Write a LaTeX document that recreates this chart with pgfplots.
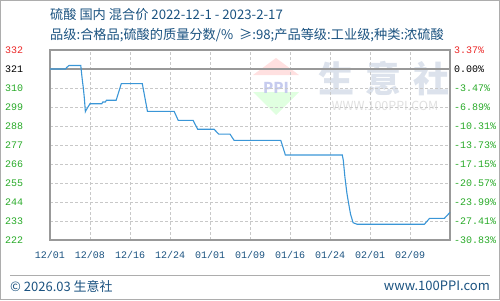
\documentclass[border=0pt]{standalone}
\usepackage{pgfplots}
\pgfplotsset{compat=1.18}
\usepackage{fontspec}
\setmainfont{Noto Sans CJK SC}
\newfontfamily\monofont{Liberation Mono}
\definecolor{tblue}{RGB}{26,82,128}
\definecolor{lgreen}{RGB}{40,170,40}
\definecolor{lred}{RGB}{235,40,40}
\definecolor{lineblue}{RGB}{58,150,215}
\definecolor{gridgray}{RGB}{200,200,200}
\definecolor{framegray}{RGB}{153,153,153}
\definecolor{wmblue}{RGB}{220,226,236}
\begin{document}
\begin{tikzpicture}[x=1bp,y=1bp]
\useasboundingbox (0,0) rectangle (500,300);
\draw[framegray!80, line width=1bp] (0.5,0.5) rectangle (499.5,299.5);
% titles
\node[anchor=west, text=tblue, inner sep=0pt, font=\fontsize{13.2bp}{15bp}\selectfont] at (50,285) {硫酸 国内 混合价 2022-12-1 - 2023-2-17};
\node[anchor=west, text=tblue, inner sep=0pt, font=\fontsize{13.2bp}{15bp}\selectfont] at (50,265) {品级:合格品;硫酸的质量分数/\%\ \ ≥:98;产品等级:工业级;种类:浓硫酸};
% footer
\draw[framegray!80, line width=1bp] (10,25) -- (490,25);
\node[anchor=west, text=tblue, inner sep=0pt, font=\fontsize{13bp}{15bp}\selectfont] at (10,14) {© 2026.03 生意社};
\node[anchor=east, text=tblue, inner sep=0pt, font=\fontsize{13bp}{15bp}\selectfont] at (490,14) {www.100PPI.com};
% watermark
\fill[red!12] (276,242) -- (299,225) -- (253,225) -- cycle;
\fill[green!12] (253,208) -- (299,208) -- (276,185) -- cycle;
\node[text=wmblue!90!blue, inner sep=0pt, text height=10bp, text depth=0bp, font=\bfseries\fontsize{15bp}{16bp}\selectfont] at (276,212) {PPI};
\node[text=wmblue, inner sep=0pt, text height=30bp, text depth=2bp, font=\bfseries\fontsize{36bp}{38bp}\selectfont] at (384,222) {生\hspace{12bp}意\hspace{12bp}社};
\node[text=black!12, inner sep=0pt, text height=9bp, text depth=0bp, font=\fontsize{12.5bp}{14bp}\selectfont] at (385,194) {WWW.100PPI.COM};
\begin{axis}[
  at={(50bp,60bp)}, anchor=south west, scale only axis,
  width=400bp, height=190bp,
  xmin=0, xmax=78, ymin=222, ymax=332,
  xtick={0,7.8,15.6,23.4,31.2,39,46.8,54.6,62.4,70.2},
  xticklabels={12/01,12/08,12/16,12/24,01/01,01/09,01/16,01/24,02/01,02/09},
  ytick={222,233,244,255,266,277,288,299,310,321,332},
  yticklabels={222,233,244,255,266,277,288,299,310,\textcolor{black}{321},\textcolor{lred}{332}},
  yticklabel style={anchor=west, inner sep=0pt, xshift=-45bp, text=lgreen, font=\monofont\fontsize{10bp}{12bp}\selectfont},
  xticklabel style={yshift=-8bp, text=tblue, font=\monofont\fontsize{10bp}{12bp}\selectfont},
  major tick length=0pt,
  grid=major,
  major grid style={gridgray, line width=0.8bp, dash pattern=on 3bp off 2bp},
  axis line style={framegray, line width=1.2bp},
  clip=false,
]
\addplot[framegray, line width=1.4bp] coordinates {(0,321) (78,321)};
\addplot[lineblue, line width=1.1bp] table {
x y
0 321
3 321
3.3 322
3.7 323
6 323
6.3 314.6
6.5 310
6.7 304
6.9 296.3
7.2 298
7.8 300.9
10.1 300.9
10.3 301.9
10.8 301.9
11.0 302.9
12.9 302.9
13.9 312.5
18.0 312.5
19.0 296.5
24.2 296.5
25.0 291.3
27.9 291.3
28.8 286.1
32.0 286.1
32.9 283.3
35.1 283.3
35.9 279.7
45.0 279.7
45.9 271.2
57.0 271.2
57.2 268
57.5 258.6
57.9 249
58.3 242
58.6 237
59.1 232
59.9 231.1
73.0 231.1
74.0 234.5
76.9 234.5
78 238
};
\end{axis}
\begin{axis}[
  at={(50bp,60bp)}, anchor=south west, scale only axis,
  width=400bp, height=190bp,
  xmin=0, xmax=78, ymin=222, ymax=332,
  axis y line*=right, axis x line=none,
  ytick={222,233,244,255,266,277,288,299,310,321,332},
  yticklabels={-30.83\%,-27.41\%,-23.99\%,-20.57\%,-17.15\%,-13.73\%,-10.31\%,-6.89\%,-3.47\%,\textcolor{black}{0.00\%},\textcolor{lred}{3.37\%}},
  yticklabel style={anchor=west, inner sep=0pt, xshift=4bp, text=lgreen, font=\monofont\fontsize{10bp}{12bp}\selectfont},
  major tick length=0pt,
  y axis line style={draw=none},
]
\end{axis}
\end{tikzpicture}
\end{document}
